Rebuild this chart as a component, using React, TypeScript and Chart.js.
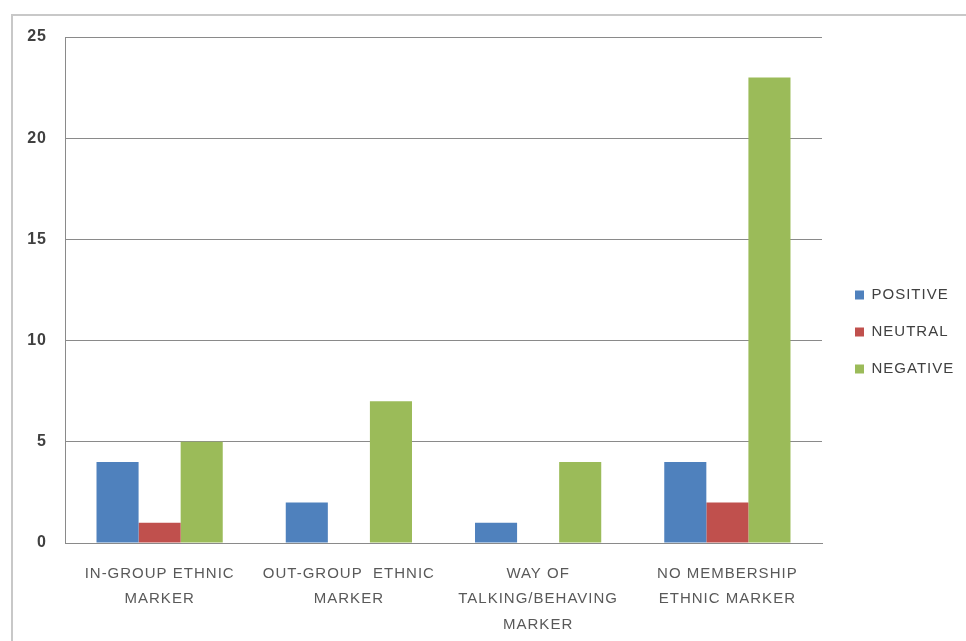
import React, { useEffect, useRef } from "react";
import { Chart, registerables } from "chart.js";

Chart.register(...registerables);

// ---- data ----
const categories: string[][] = [
  ["IN-GROUP ETHNIC", "MARKER"],
  ["OUT-GROUP  ETHNIC", "MARKER"],
  ["WAY OF", "TALKING/BEHAVING", "MARKER"],
  ["NO MEMBERSHIP", "ETHNIC MARKER"],
];
const seriesNames = ["POSITIVE", "NEUTRAL", "NEGATIVE"];
const positiveValues = [4, 2, 1, 4];
const neutralValues = [1, 0, 0, 2];
const negativeValues = [5, 7, 4, 23];
const yMin = 0;
const yMax = 25;
const yStep = 5;

// ---- styles ----
const COLORS = ["#4F81BD", "#C0504D", "#9BBB59"];
const W = 966;
const H = 641;
const AREA_LEFT = 65;
const AREA_TOP = 37;
const AREA_BOTTOM = 543;
const AREA_RIGHT = 822;
const LEGEND_PAD = 22;
const LEGEND_BOX_X = 855;
const LEGEND_FIRST_Y = 295;
const LEGEND_FONT = 15;
const FONT = "'Liberation Sans', Arial, sans-serif";
const LETTER_SPACING = "1px";

const setSpacing = (chart: any) => {
  const ctx = chart.ctx;
  if (ctx && "letterSpacing" in ctx) ctx.letterSpacing = LETTER_SPACING;
};

const legendFix = {
  id: "legendFix",
  beforeUpdate(chart: any) {
    setSpacing(chart);
  },
  beforeLayout(chart: any) {
    setSpacing(chart);
    const lg = chart.legend;
    if (lg && !lg.__patched) {
      const orig = lg.fit;
      lg.fit = function () {
        orig.call(this);
        this.width = W - AREA_RIGHT;
      };
      lg.__patched = true;
    }
  },
  afterLayout(chart: any) {
    const lg = chart.legend;
    if (!lg) return;
    const dx = LEGEND_BOX_X - (lg.left + LEGEND_PAD);
    lg.left += dx;
    lg.right += dx;
    const colH = lg.columnSizes && lg.columnSizes[0] ? lg.columnSizes[0].height : 0;
    const startY = (lg.top + LEGEND_PAD + lg.bottom - colH) / 2;
    const dy = LEGEND_FIRST_Y - LEGEND_FONT / 2 - startY;
    lg.top += dy;
    lg.bottom += dy;
  },
  beforeDraw(chart: any) {
    setSpacing(chart);
  },
};

export default function App() {
  const ref = useRef<HTMLCanvasElement | null>(null);

  useEffect(() => {
    if (!ref.current) return;
    const chart = new Chart(ref.current, {
      type: "bar",
      data: {
        labels: categories,
        datasets: [
          { label: seriesNames[0], data: positiveValues, backgroundColor: COLORS[0] },
          { label: seriesNames[1], data: neutralValues, backgroundColor: COLORS[1] },
          { label: seriesNames[2], data: negativeValues, backgroundColor: COLORS[2] },
        ],
      },
      options: {
        responsive: false,
        animation: false,
        maintainAspectRatio: false,
        layout: { padding: { top: AREA_TOP, left: 0, right: 0, bottom: 0 } },
        datasets: {
          bar: { categoryPercentage: 0.667, barPercentage: 1.0, borderWidth: 0 },
        },
        plugins: {
          tooltip: { enabled: false },
          title: { display: false },
          legend: {
            display: true,
            position: "right",
            align: "center",
            labels: {
              boxWidth: 9,
              boxHeight: 9,
              padding: LEGEND_PAD,
              color: "#404040",
              font: { family: FONT, size: LEGEND_FONT },
            },
          },
        },
        scales: {
          x: {
            grid: { display: false, drawTicks: false },
            border: { display: true, color: "#8a8a8a", width: 1 },
            ticks: {
              color: "#595959",
              padding: 18,
              maxRotation: 0,
              autoSkip: false,
              font: { family: FONT, size: 15, lineHeight: 25.5 / 15 },
            },
            afterFit(scale: any) {
              scale.height = H - AREA_BOTTOM;
            },
          },
          y: {
            min: yMin,
            max: yMax,
            grid: { color: "#8a8a8a", lineWidth: 1, drawTicks: false },
            border: { display: true, color: "#8a8a8a", width: 1 },
            ticks: {
              stepSize: yStep,
              color: "#404040",
              padding: 18,
              font: { family: FONT, size: 16, weight: "bold" },
            },
            afterFit(scale: any) {
              scale.width = AREA_LEFT;
            },
          },
        },
      },
      plugins: [legendFix],
    } as any);
    return () => chart.destroy();
  }, []);

  return (
    <div>
      <canvas
        ref={ref}
        width={W}
        height={H}
        style={{ position: "fixed", left: 0, top: 0, width: W, height: H }}
      />
      <div
        style={{
          position: "fixed",
          left: 11,
          top: 14,
          right: 0,
          bottom: 0,
          borderLeft: "2px solid #c8c8c8",
          borderTop: "2px solid #c8c8c8",
          pointerEvents: "none",
        }}
      />
    </div>
  );
}
